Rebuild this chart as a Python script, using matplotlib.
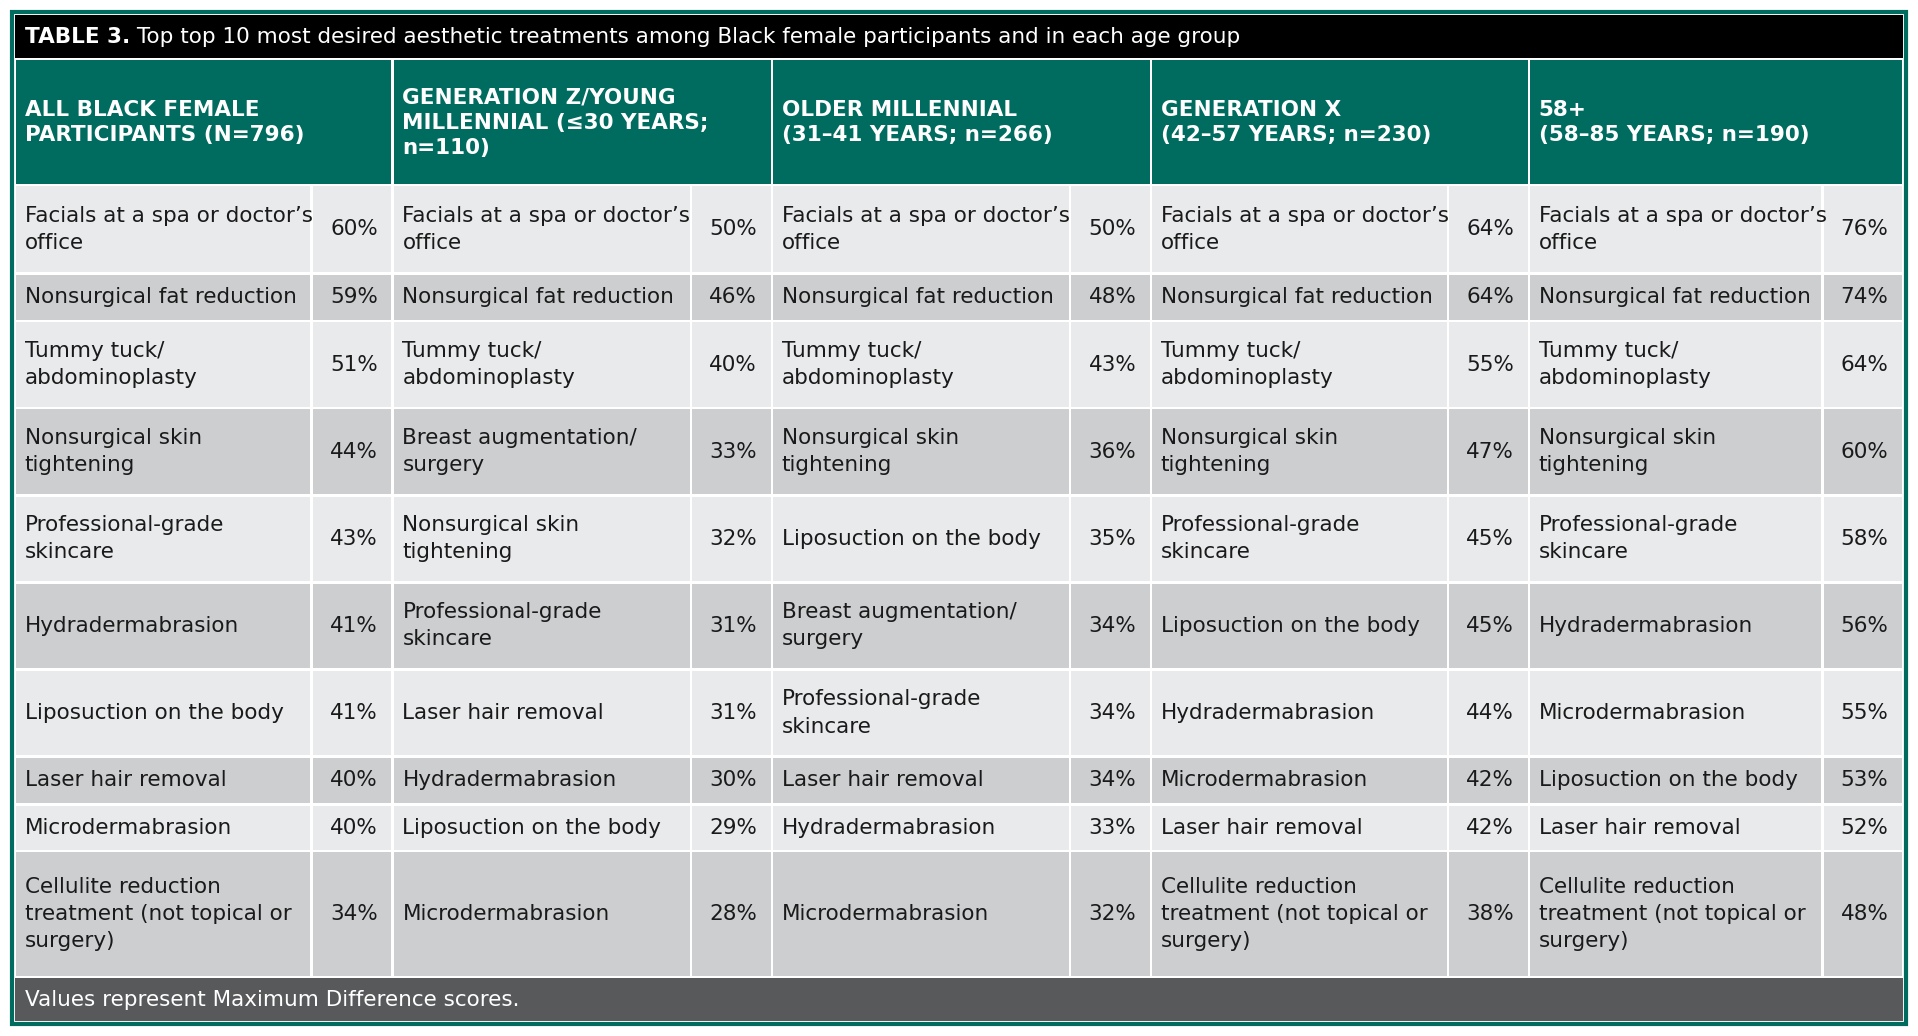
import matplotlib.pyplot as plt
from matplotlib.patches import Rectangle

title_bold = 'TABLE 3.'
title_rest = ' Top top 10 most desired aesthetic treatments among Black female participants and in each age group'
headers = ['ALL BLACK FEMALE\nPARTICIPANTS (N=796)',
           'GENERATION Z/YOUNG\nMILLENNIAL (≤30 YEARS;\nn=110)',
           'OLDER MILLENNIAL\n(31–41 YEARS; n=266)',
           'GENERATION X\n(42–57 YEARS; n=230)',
           '58+\n(58–85 YEARS; n=190)']
col_all = ["Facials at a spa or doctor’s\noffice", "Nonsurgical fat reduction", "Tummy tuck/\nabdominoplasty",
           "Nonsurgical skin\ntightening", "Professional-grade\nskincare", "Hydradermabrasion",
           "Liposuction on the body", "Laser hair removal", "Microdermabrasion",
           "Cellulite reduction\ntreatment (not topical or\nsurgery)"]
val_all = ['60%', '59%', '51%', '44%', '43%', '41%', '41%', '40%', '40%', '34%']
col_genz = ["Facials at a spa or doctor’s\noffice", "Nonsurgical fat reduction", "Tummy tuck/\nabdominoplasty",
            "Breast augmentation/\nsurgery", "Nonsurgical skin\ntightening", "Professional-grade\nskincare",
            "Laser hair removal", "Hydradermabrasion", "Liposuction on the body", "Microdermabrasion"]
val_genz = ['50%', '46%', '40%', '33%', '32%', '31%', '31%', '30%', '29%', '28%']
col_mill = ["Facials at a spa or doctor’s\noffice", "Nonsurgical fat reduction", "Tummy tuck/\nabdominoplasty",
            "Nonsurgical skin\ntightening", "Liposuction on the body", "Breast augmentation/\nsurgery",
            "Professional-grade\nskincare", "Laser hair removal", "Hydradermabrasion", "Microdermabrasion"]
val_mill = ['50%', '48%', '43%', '36%', '35%', '34%', '34%', '34%', '33%', '32%']
col_genx = ["Facials at a spa or doctor’s\noffice", "Nonsurgical fat reduction", "Tummy tuck/\nabdominoplasty",
            "Nonsurgical skin\ntightening", "Professional-grade\nskincare", "Liposuction on the body",
            "Hydradermabrasion", "Microdermabrasion", "Laser hair removal",
            "Cellulite reduction\ntreatment (not topical or\nsurgery)"]
val_genx = ['64%', '64%', '55%', '47%', '45%', '45%', '44%', '42%', '42%', '38%']
col_58 = ["Facials at a spa or doctor’s\noffice", "Nonsurgical fat reduction", "Tummy tuck/\nabdominoplasty",
          "Nonsurgical skin\ntightening", "Professional-grade\nskincare", "Hydradermabrasion",
          "Microdermabrasion", "Liposuction on the body", "Laser hair removal",
          "Cellulite reduction\ntreatment (not topical or\nsurgery)"]
val_58 = ['76%', '74%', '64%', '60%', '58%', '56%', '55%', '53%', '52%', '48%']
footnote = 'Values represent Maximum Difference scores.'

columns = [(col_all, val_all), (col_genz, val_genz), (col_mill, val_mill),
           (col_genx, val_genx), (col_58, val_58)]

TEAL = '#006b5f'
LIGHT = '#e9eaec'
DARK = '#cdced0'
FONT = ['Liberation Sans Narrow', 'DejaVu Sans']
FS = 15.5

fig = plt.figure(figsize=(19.18, 10.36), dpi=100)
ax = fig.add_axes([0, 0, 1, 1])
ax.set_xlim(0, 1563)
ax.set_ylim(845, 0)
ax.axis('off')

# outer frame
ax.add_patch(Rectangle((10, 10), 1543, 825, fc='white', ec=TEAL, lw=3))
ax.add_patch(Rectangle((12, 12), 1539, 35, fc='black', lw=0))
ax.text(20, 30, title_bold, color='white', fontsize=FS, fontweight='bold', va='center',
        family=FONT)
t = ax.text(20, 30, title_bold, color='white', fontsize=FS, fontweight='bold', va='center',
            family=FONT, alpha=0)
fig.canvas.draw()
bb = t.get_window_extent().transformed(ax.transData.inverted())
ax.text(bb.x1, 30, title_rest, color='white', fontsize=FS, va='center', family=FONT)

group_x = [12, 320, 629, 938, 1246, 1551]
pct_w = 66
header_top, header_bot = 49, 151
row_edges = [151, 223, 262, 333, 404, 475, 546, 617, 656, 694, 797]

for g in range(5):
    x0, x1 = group_x[g], group_x[g + 1]
    ax.add_patch(Rectangle((x0 + 1, header_top), x1 - x0 - 2, header_bot - header_top - 1,
                           fc=TEAL, lw=0))
    ax.text(x0 + 8, (header_top + header_bot) / 2, headers[g], color='white', fontsize=FS,
            fontweight='bold', va='center', ha='left', family=FONT, linespacing=1.35)
    names, vals = columns[g]
    for r in range(10):
        y0, y1 = row_edges[r], row_edges[r + 1]
        fc = LIGHT if r % 2 == 0 else DARK
        xp = x1 - pct_w
        ax.add_patch(Rectangle((x0 + 1, y0 + 1), xp - x0 - 2, y1 - y0 - 2, fc=fc, lw=0))
        ax.add_patch(Rectangle((xp + 1, y0 + 1), x1 - xp - 2, y1 - y0 - 2, fc=fc, lw=0))
        ym = (y0 + y1) / 2
        ax.text(x0 + 8, ym, names[r], fontsize=FS, va='center', ha='left', family=FONT,
                color='#1a1a1a', linespacing=1.45)
        ax.text(x1 - 12, ym, vals[r], fontsize=FS, va='center', ha='right', family=FONT,
                color='#1a1a1a')

ax.add_patch(Rectangle((12, 798), 1539, 35, fc='#58595b', lw=0))
ax.text(20, 816, footnote, color='white', fontsize=FS, va='center', family=FONT)

fig.savefig('out.png', dpi=100)
